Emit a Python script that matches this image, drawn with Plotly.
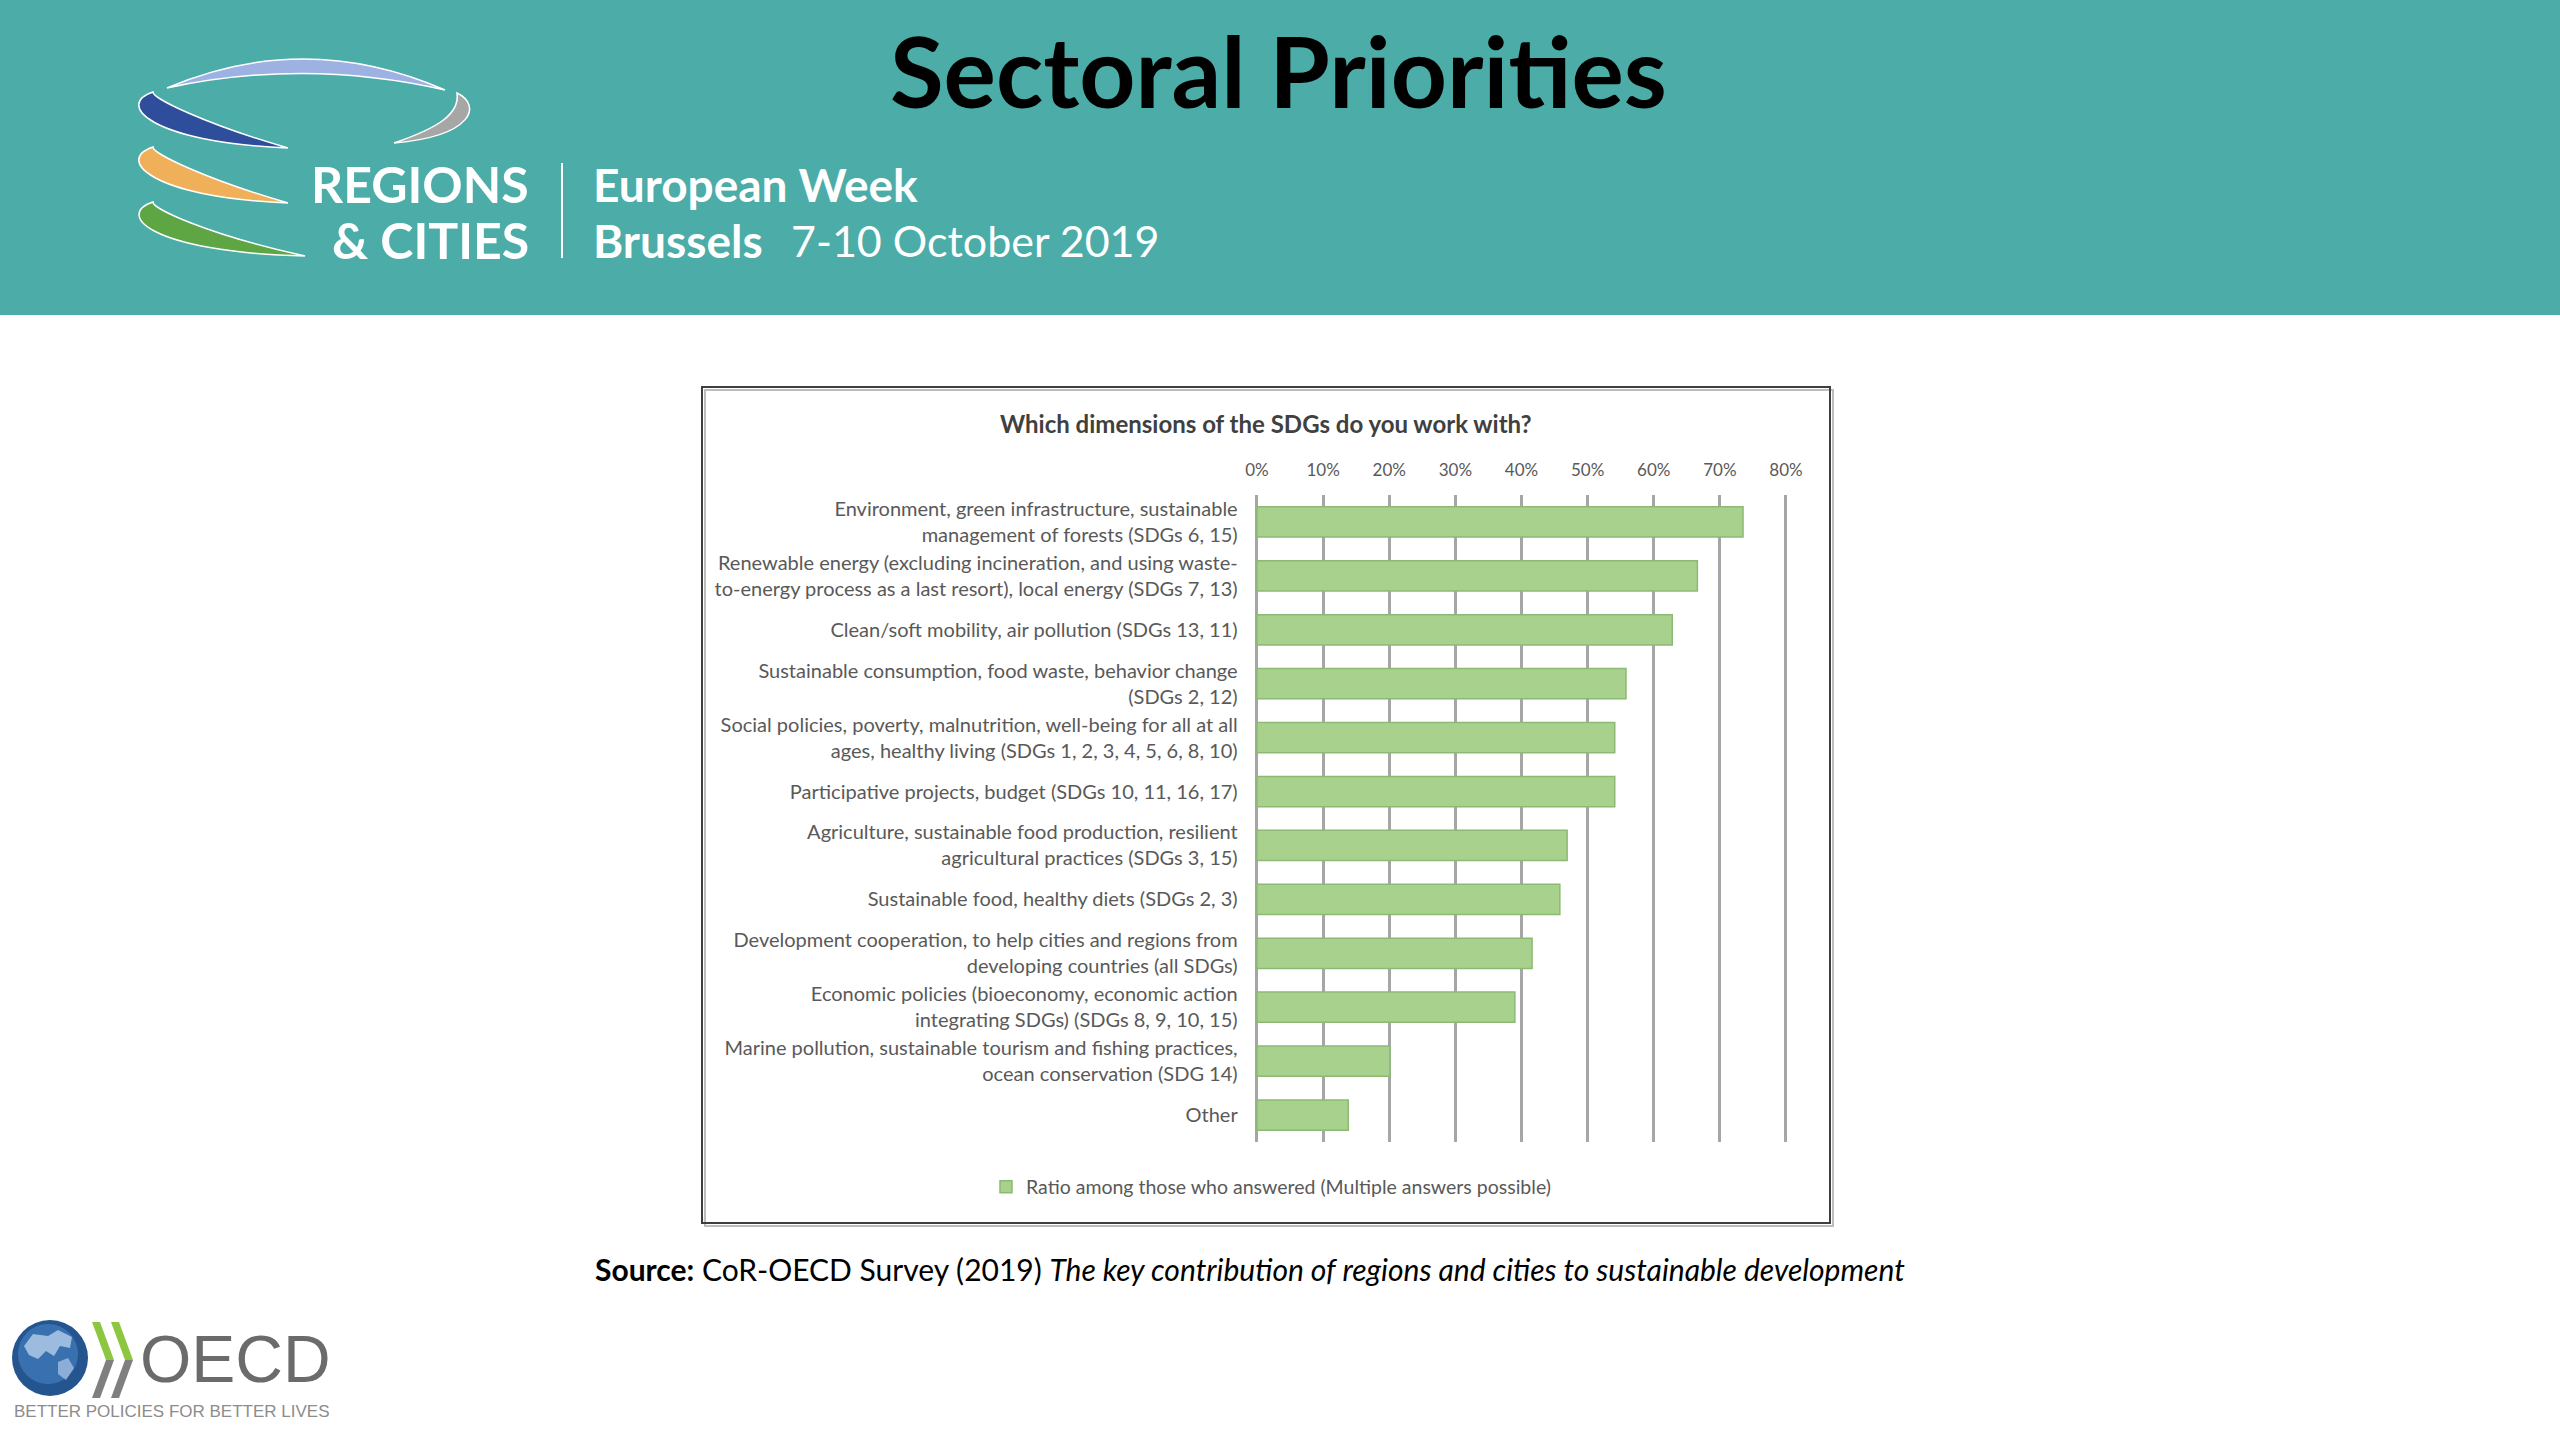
import plotly.graph_objects as go

W, H = 2560, 1440

# ---------------- data ----------------
categories = [
    "Environment, green infrastructure, sustainable<br>management of forests (SDGs 6, 15)",
    "Renewable energy (excluding incineration, and using waste-<br>to-energy process as a last resort), local energy (SDGs 7, 13)",
    "Clean/soft mobility, air pollution (SDGs 13, 11)",
    "Sustainable consumption, food waste, behavior change<br>(SDGs 2, 12)",
    "Social policies, poverty, malnutrition, well-being for all at all<br>ages, healthy living (SDGs 1, 2, 3, 4, 5, 6, 8, 10)",
    "Participative projects, budget (SDGs 10, 11, 16, 17)",
    "Agriculture, sustainable food production, resilient<br>agricultural practices (SDGs 3, 15)",
    "Sustainable food, healthy diets (SDGs 2, 3)",
    "Development cooperation, to help cities and regions from<br>developing countries (all SDGs)",
    "Economic policies (bioeconomy, economic action<br>integrating SDGs) (SDGs 8, 9, 10, 15)",
    "Marine pollution, sustainable tourism and fishing practices,<br>ocean conservation (SDG 14)",
    "Other",
]
values = [0.735, 0.666, 0.628, 0.558, 0.541, 0.541, 0.469, 0.458, 0.416, 0.390, 0.201, 0.138]
tick_values = [0.0, 0.1, 0.2, 0.3, 0.4, 0.5, 0.6, 0.7, 0.8]
tick_labels = ["0%", "10%", "20%", "30%", "40%", "50%", "60%", "70%", "80%"]
series_name = "Ratio among those who answered (Multiple answers possible)"
chart_title = "Which dimensions of the SDGs do you work with?"
slide_title = "Sectoral Priorities"

FONT = "Lato, 'Open Sans', sans-serif"
GRAY_TXT = "#595959"

fig = go.Figure()
fig.add_trace(go.Bar(
    x=values, y=categories, orientation="h", name=series_name,
    marker=dict(color="#A9D18E", line=dict(color="#8CBA72", width=1.5)),
    showlegend=True, xaxis="x", yaxis="y", hoverinfo="skip",
))
# invisible trace for the pixel-space decoration layer
fig.add_trace(go.Scatter(x=[], y=[], xaxis="x2", yaxis="y2", showlegend=False, hoverinfo="skip"))

def py(y):
    return 1 - y / H

x_lo, x_hi = -0.002, 0.802
px_per = (1786 - 1257) / 0.8
dom_x = [(1257 + x_lo * px_per) / W, (1257 + x_hi * px_per) / W]

shapes = []
ann = []

def rect(x0, y0, x1, y1, fill=None, line=None, lw=0, layer="below"):
    shapes.append(dict(type="rect", xref="x2", yref="y2", x0=x0, y0=y0, x1=x1, y1=y1,
                       fillcolor=fill if fill else "rgba(0,0,0,0)",
                       line=dict(color=line if line else "rgba(0,0,0,0)", width=lw), layer=layer))

def path(d, fill, line="rgba(0,0,0,0)", lw=0, layer="above", opacity=1):
    shapes.append(dict(type="path", xref="x2", yref="y2", path=d, fillcolor=fill,
                       line=dict(color=line, width=lw), layer=layer, opacity=opacity))

def text(x, y, t, size, color, family=FONT, xa="center", ya="middle"):
    ann.append(dict(xref="x2", yref="y2", x=x, y=y, text=t, showarrow=False,
                    xanchor=xa, yanchor=ya, font=dict(size=size, color=color, family=family)))

def swoosh(dy, end_x, end_y, color):
    # crescent-shaped swoosh of the Regions & Cities logo
    x0, y0 = 153, 92 + dy
    d = (f"M {x0},{y0} C 116,{104+dy} 148,{142+dy} {end_x},{end_y} "
         f"C 205,{124+dy} 152,{98+dy} {x0},{y0} Z")
    path(d, color, "#ffffff", 1.5)

# header band
rect(0, 0, W, 315, fill="#4BACA8")
text(1278, 70, "<b>" + slide_title + "</b>", 98, "#000000")

# REGIONS & CITIES logo arcs
path("M 167,88 Q 305,29 445,90 Q 305,58 167,88 Z", "#9DB2E3", "#ffffff", 1.5)
swoosh(0, 288, 148, "#2E4D9B")
path("M 457,93 C 482,105 474,136 394,143 C 438,128 460,114 457,93 Z", "#A6A6A6", "#ffffff", 1.5)
swoosh(55, 288, 203, "#F0B05A")
swoosh(110, 305, 256, "#5EA544")
text(531, 184, "<b>REGIONS</b>", 50, "#ffffff", xa="right")
text(531, 240, "<b>&amp; CITIES</b>", 50, "#ffffff", xa="right")
shapes.append(dict(type="line", xref="x2", yref="y2", x0=562, x1=562, y0=163, y1=258,
                   line=dict(color="#ffffff", width=2)))
text(591, 184, "<b>European Week</b>", 46, "#ffffff", xa="left")
text(591, 240, "<b>Brussels</b>", 46, "#ffffff", xa="left")
text(789, 240, "7-10 October 2019", 43, "#ffffff", xa="left")

# chart frame
rect(705, 390, 1833, 1226, line="#bdbdbd", lw=2)
rect(702, 387, 1830, 1223, line="#3f3f3f", lw=2)
text(1266, 423, "<b>" + chart_title + "</b>", 24, "#404040")

# source line
text(1250, 1269, "<b>Source:</b> CoR-OECD Survey (2019) <i>The key contribution of regions and cities to sustainable development</i>",
     30, "#000000")

# OECD logo
shapes.append(dict(type="circle", xref="x2", yref="y2", x0=12, x1=88, y0=1320, y1=1396,
                   fillcolor="#24558F", line=dict(width=0), layer="above"))
shapes.append(dict(type="circle", xref="x2", yref="y2", x0=18, x1=78, y0=1324, y1=1384,
                   fillcolor="#3F78B8", opacity=0.8, line=dict(width=0), layer="above"))
path("M 24,1346 L 33,1334 L 48,1336 L 58,1330 L 72,1337 L 70,1348 L 60,1346 L 54,1356 "
     "L 46,1351 L 38,1359 L 29,1355 Z", "#AFC8E8", opacity=0.85)
path("M 58,1362 L 68,1358 L 74,1368 L 66,1380 L 58,1374 Z", "#AFC8E8", opacity=0.7)
for off in (0, 19):
    path(f"M {92+off},1322 L {100+off},1322 L {114+off},1360 L {106+off},1360 Z", "#8DC63F")
    path(f"M {106+off},1360 L {114+off},1360 L {100+off},1398 L {92+off},1398 Z", "#7F7F7F")
text(235, 1359, "OECD", 66, "#6B6B6B", family="'Liberation Sans', Arial, sans-serif")
text(12, 1411, "BETTER POLICIES FOR BETTER LIVES", 17, "#8C8C8C",
     family="'Liberation Sans', Arial, sans-serif", xa="left")

fig.update_layout(
    width=W, height=H, autosize=False,
    margin=dict(l=0, r=0, t=0, b=0, pad=0, autoexpand=False),
    paper_bgcolor="#ffffff", plot_bgcolor="rgba(0,0,0,0)",
    bargap=0.44,
    xaxis=dict(domain=dom_x, range=[x_lo, x_hi], side="top", anchor="y",
               tickvals=tick_values, ticktext=tick_labels,
               tickfont=dict(size=17, color=GRAY_TXT, family=FONT),
               showgrid=True, gridcolor="#A6A6A6", gridwidth=2.5,
               zeroline=False, showline=False, ticks="", ticklabelstandoff=15,
               automargin=False, fixedrange=True),
    yaxis=dict(domain=[py(1142), py(495)], anchor="x", autorange="reversed",
               categoryorder="array", categoryarray=categories,
               tickfont=dict(size=20, color=GRAY_TXT, family=FONT),
               showgrid=False, zeroline=False, showline=False, ticks="",
               ticklabelstandoff=17, automargin=False, fixedrange=True),
    xaxis2=dict(domain=[0, 1], range=[0, W], anchor="y2", visible=False,
                automargin=False, fixedrange=True),
    yaxis2=dict(domain=[0, 1], range=[H, 0], anchor="x2", visible=False,
                automargin=False, fixedrange=True),
    legend=dict(orientation="h", x=1271 / W, xanchor="center", y=py(1187), yanchor="middle",
                font=dict(size=19.5, color=GRAY_TXT, family=FONT), bgcolor="rgba(0,0,0,0)"),
    shapes=shapes,
    annotations=ann,
    showlegend=True,
)

fig.write_html("out.html", config={"displayModeBar": False},
               post_script="document.body.style.margin='0';document.body.style.overflow='hidden';")
